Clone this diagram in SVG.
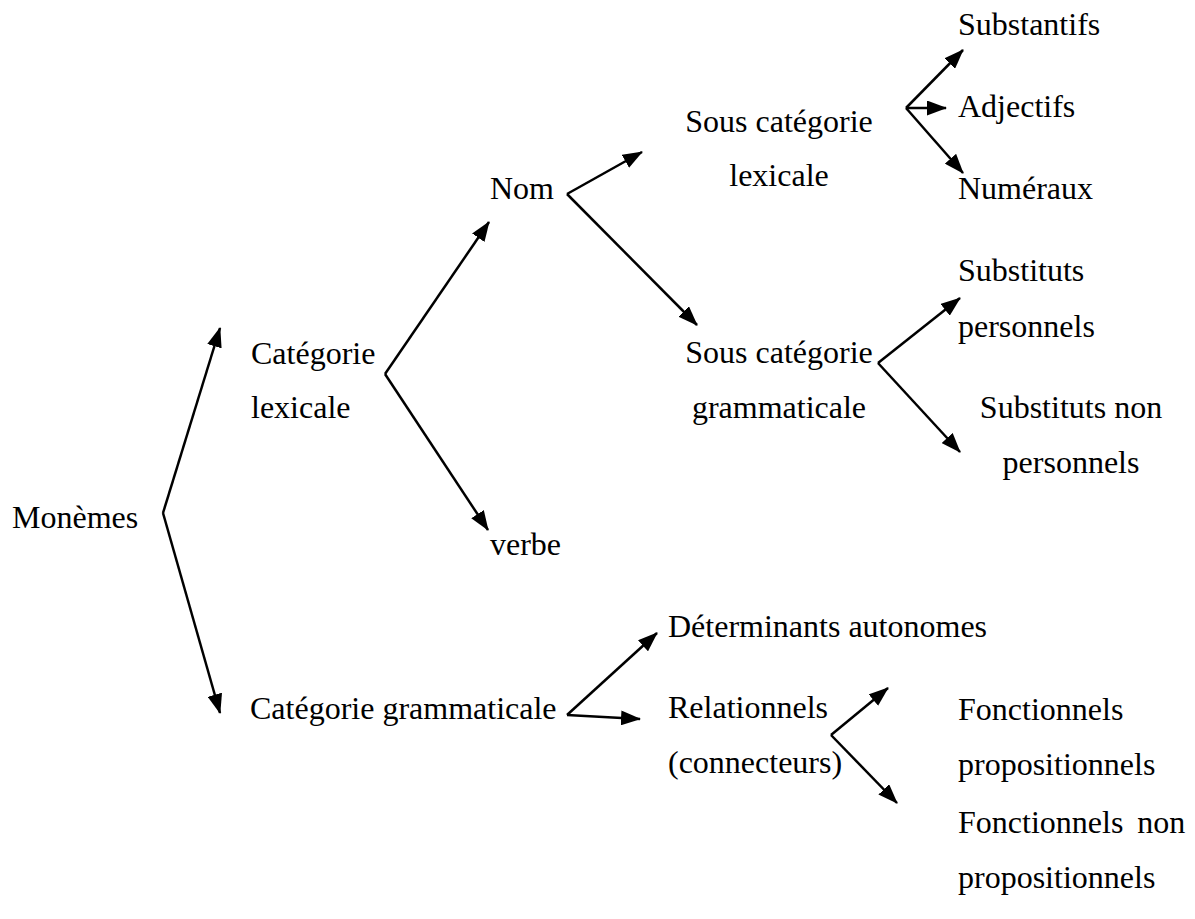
<svg xmlns="http://www.w3.org/2000/svg" width="1195" height="919" viewBox="0 0 1195 919">
<style>
text{font-family:"Liberation Serif","Times New Roman",serif;font-size:32px;fill:#000}
.c{text-anchor:middle}
line{stroke:#000;stroke-width:2.5;marker-end:url(#ah)}
</style>
<defs>
<marker id="ah" markerUnits="userSpaceOnUse" markerWidth="20" markerHeight="15" refX="19" refY="7.5" orient="auto" viewBox="0 0 20 15">
<path d="M0,0 L20,7.5 L0,15 Z" fill="#000"/>
</marker>
</defs>
<rect width="1195" height="919" fill="#fff"/>
<g id="connectors">
<line x1="163" y1="513" x2="220" y2="328"/>
<line x1="163" y1="513" x2="220" y2="713"/>
<line x1="385" y1="374" x2="489" y2="222"/>
<line x1="385" y1="374" x2="488" y2="530"/>
<line x1="567" y1="194" x2="642" y2="152"/>
<line x1="567" y1="194" x2="697" y2="325"/>
<line x1="906" y1="108" x2="963" y2="50"/>
<line x1="906" y1="108" x2="946" y2="108"/>
<line x1="906" y1="108" x2="963" y2="173"/>
<line x1="878" y1="363" x2="960" y2="298"/>
<line x1="878" y1="363" x2="960" y2="452"/>
<line x1="567" y1="715" x2="657" y2="633"/>
<line x1="567" y1="715" x2="640" y2="719"/>
<line x1="831" y1="735" x2="888" y2="688"/>
<line x1="831" y1="735" x2="897" y2="803"/>
</g>
<g id="monemes"><text x="12" y="528">Monèmes</text></g>
<g id="cat-lex"><text x="251" y="364">Catégorie</text><text x="251" y="418">lexicale</text></g>
<g id="cat-gram"><text x="250" y="719">Catégorie grammaticale</text></g>
<g id="verbe"><text x="490" y="555">verbe</text></g>
<g id="nom"><text x="490" y="199">Nom</text></g>
<g id="sous-cat-lex"><text class="c" x="779" y="132">Sous catégorie</text><text class="c" x="779" y="186">lexicale</text></g>
<g id="sous-cat-gram"><text class="c" x="779" y="363">Sous catégorie</text><text class="c" x="779" y="418">grammaticale</text></g>
<g id="substantifs"><text x="958" y="35">Substantifs</text></g>
<g id="adjectifs"><text x="958" y="117">Adjectifs</text></g>
<g id="numeraux"><text x="958" y="199">Numéraux</text></g>
<g id="subst-pers"><text x="958" y="281">Substituts</text><text x="958" y="337">personnels</text></g>
<g id="subst-non-pers"><text class="c" x="1071" y="418">Substituts non</text><text class="c" x="1071" y="473">personnels</text></g>
<g id="determinants"><text x="668" y="637">Déterminants autonomes</text></g>
<g id="relationnels"><text x="668" y="718">Relationnels</text><text x="668" y="773">(connecteurs)</text></g>
<g id="fonct-prop"><text x="958" y="720">Fonctionnels</text><text x="958" y="775">propositionnels</text></g>
<g id="fonct-non-prop"><text x="958" y="833" word-spacing="6">Fonctionnels non</text><text x="958" y="888">propositionnels</text></g>
</svg>
